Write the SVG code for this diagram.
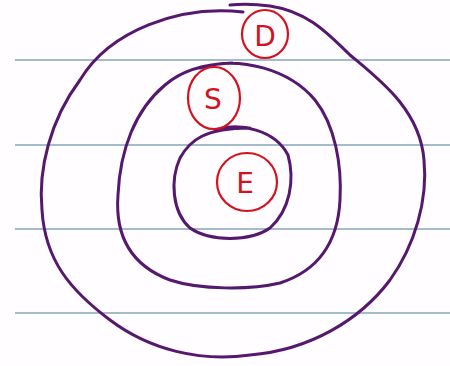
<svg xmlns="http://www.w3.org/2000/svg" width="450" height="366" viewBox="0 0 450 366">
<style>
.rule{stroke:#a3bccb;stroke-width:2.2;fill:none}
.ring{stroke:#56186e;stroke-width:3;fill:none;stroke-linecap:round;stroke-linejoin:round}
.mark{stroke:#d4121e;stroke-width:2.2;fill:none}
.lbl{font-family:"DejaVu Sans","Liberation Sans",sans-serif;font-size:28px;fill:#d4121e;text-anchor:middle;dominant-baseline:central}
</style>
<rect width="450" height="366" fill="#fffdff"/>
<g id="rules">
<line class="rule" x1="15" y1="60" x2="450" y2="60"/>
<line class="rule" x1="15" y1="145" x2="450" y2="145"/>
<line class="rule" x1="15" y1="229" x2="450" y2="229"/>
<line class="rule" x1="15" y1="313" x2="450" y2="313"/>
</g>
<g id="rings">
<path id="outer" class="ring" d="M 243 12 C 180 5, 110 30, 80 80 C 50 120, 38 170, 42 210 C 45 260, 70 290, 110 320 C 150 350, 200 362, 250 355 C 310 350, 360 320, 390 280 C 415 245, 428 200, 424 160 C 420 110, 380 80, 350 55 C 330 36, 310 12, 270 6 C 255 4, 240 4, 230 5"/>
<path id="middle" class="ring" d="M 200 68 C 240 55, 290 70, 315 100 C 335 125, 342 165, 340 200 C 338 240, 320 270, 280 283 C 250 290, 200 290, 170 280 C 130 265, 115 235, 118 195 C 120 150, 135 110, 165 85 C 180 72, 200 64, 232 63"/>
<path id="inner" class="ring" d="M 215 130 C 240 122, 275 130, 288 155 C 295 180, 290 210, 270 228 C 250 242, 210 242, 190 228 C 172 212, 170 180, 180 158 C 190 140, 205 128, 250 128"/>
</g>
<g id="connectors"></g>
<g id="node-D">
<ellipse class="mark" cx="265" cy="34" rx="23" ry="24"/>
<text class="lbl" x="265" y="36">D</text>
</g>
<g id="node-S">
<ellipse class="mark" cx="214" cy="98" rx="26" ry="31"/>
<text class="lbl" x="213" y="99">S</text>
</g>
<g id="node-E">
<ellipse class="mark" cx="247" cy="182" rx="30" ry="29"/>
<text class="lbl" x="245" y="183">E</text>
</g>
</svg>
